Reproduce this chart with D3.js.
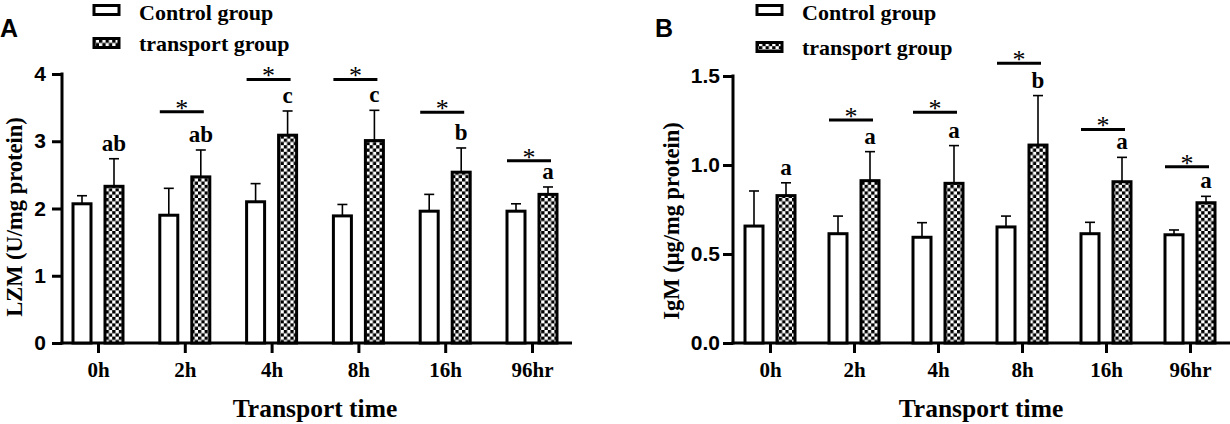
<!DOCTYPE html>
<html>
<head>
<meta charset="utf-8">
<script src="https://cdn.jsdelivr.net/npm/d3@7"></script>
<style>
  html, body { margin: 0; padding: 0; background: #fff; }
  svg { display: block; }
  .serif { font-family: "Liberation Serif", "Times New Roman", serif; font-weight: bold; }
  .sans  { font-family: "Liberation Sans", Arial, sans-serif; font-weight: bold; }
  .star  { font-family: "Liberation Serif", "Times New Roman", serif; font-weight: normal; }
</style>
</head>
<body>
<svg id="chart" width="1230" height="424"></svg>
<script>
// ---- data ----
const times = ["0h", "2h", "4h", "8h", "16h", "96hr"];

const lzmControl      = [2.07, 1.90, 2.10, 1.89, 1.96, 1.96];
const lzmControlErr   = [0.12, 0.40, 0.27, 0.17, 0.25, 0.11];
const lzmTransport    = [2.33, 2.47, 3.09, 3.01, 2.54, 2.21];
const lzmTransportErr = [0.41, 0.40, 0.36, 0.45, 0.36, 0.11];
const lzmLetters      = ["ab", "ab", "c", "c", "b", "a"];
const lzmSigLevel     = [null, 3.44, 3.92, 3.92, 3.43, 2.71];
const lzmTicks        = [0, 1, 2, 3, 4];

const igmControl      = [0.657, 0.614, 0.594, 0.652, 0.614, 0.608];
const igmControlErr   = [0.197, 0.099, 0.082, 0.061, 0.064, 0.027];
const igmTransport    = [0.828, 0.912, 0.897, 1.112, 0.906, 0.788];
const igmTransportErr = [0.072, 0.163, 0.212, 0.278, 0.137, 0.036];
const igmLetters      = ["a", "a", "a", "b", "a", "a"];
const igmSigLevel     = [null, 1.253, 1.296, 1.571, 1.20, 0.99];
const igmTicks        = [0, 0.5, 1.0, 1.5];

const svg = d3.select('#chart');

// checker pattern for the transport group
const defs = svg.append('defs');
const pat = defs.append('pattern')
  .attr('id', 'checker')
  .attr('patternUnits', 'userSpaceOnUse')
  .attr('width', 6.6).attr('height', 6.6);
pat.append('rect').attr('width', 6.6).attr('height', 6.6).attr('fill', '#fff');
pat.append('rect').attr('width', 3.3).attr('height', 3.3).attr('fill', '#000');
pat.append('rect').attr('x', 3.3).attr('y', 3.3).attr('width', 3.3).attr('height', 3.3).attr('fill', '#000');

function panel(opt) {
  const g = svg.append('g');
  const y = d3.scaleLinear().domain(opt.yDomain).range([343, opt.yTop]);
  const x = d3.scalePoint().domain(times).range(opt.xRange);

  // panel letter
  g.append('text').attr('class', 'sans')
    .attr('x', opt.letterX).attr('y', 37)
    .attr('font-size', 25).text(opt.letter);

  // legend
  const leg = [
    { label: 'Control group', fill: '#fff', y: 10, base: 20 },
    { label: 'transport group', fill: 'url(#checker)', y: opt.legRow2, base: opt.legRow2 + 8 }
  ];
  leg.forEach(l => {
    g.append('rect')
      .attr('x', opt.legX).attr('y', l.y - 4.5)
      .attr('width', 25).attr('height', 9)
      .attr('fill', l.fill).attr('stroke', '#000').attr('stroke-width', 3);
    g.append('text').attr('class', 'serif')
      .attr('x', opt.legX + 45).attr('y', l.base)
      .attr('font-size', 22).text(l.label);
  });

  // y axis
  const yAxis = g.append('g')
    .attr('transform', `translate(${opt.axisX},0)`)
    .call(d3.axisLeft(y).tickValues(opt.ticks).tickFormat(opt.fmt)
      .tickSize(10).tickSizeOuter(0).tickPadding(opt.yPad));
  yAxis.select('.domain').attr('stroke-width', 3).attr('d', `M0,${343 + 1.5}V${opt.yTop - 1.5}`);
  yAxis.selectAll('.tick line').attr('stroke-width', 3);
  yAxis.selectAll('.tick text').attr('class', 'sans').attr('font-size', 21).attr('fill', '#000');

  // x axis
  const xAxis = g.append('g')
    .attr('transform', 'translate(0,343)')
    .call(d3.axisBottom(x).tickSize(10).tickPadding(9));
  xAxis.select('.domain').attr('stroke-width', 3).attr('d', `M${opt.axisX - 1.5},0H${opt.axisEnd}`);
  xAxis.selectAll('.tick line').attr('stroke-width', 3);
  xAxis.selectAll('.tick text').attr('class', 'serif').attr('font-size', 21).attr('fill', '#000');

  const off = 16, bw = 18;
  const rows = times.map((t, i) => ({
    t, i,
    c: opt.control[i], ce: opt.controlErr[i],
    tr: opt.transport[i], te: opt.transportErr[i],
    letter: opt.letters[i], sig: opt.sig[i]
  }));

  // error bars (drawn first, bars on top)
  const err = g.append('g').attr('stroke', '#000').attr('stroke-width', 1.6);
  rows.forEach(r => {
    [[x(r.t) - off, r.c, r.ce], [x(r.t) + off, r.tr, r.te]].forEach(([cx, v, e]) => {
      err.append('line').attr('x1', cx).attr('x2', cx).attr('y1', y(v)).attr('y2', y(v + e));
      err.append('line').attr('x1', cx - 5).attr('x2', cx + 5).attr('y1', y(v + e)).attr('y2', y(v + e));
    });
  });

  // bars
  g.append('g').selectAll('rect.ctrl').data(rows).join('rect')
    .attr('x', d => x(d.t) - off - bw / 2).attr('width', bw)
    .attr('y', d => y(d.c)).attr('height', d => y(0) - y(d.c))
    .attr('fill', '#fff').attr('stroke', '#000').attr('stroke-width', 3);
  g.append('g').selectAll('rect.trans').data(rows).join('rect')
    .attr('x', d => x(d.t) + off - bw / 2).attr('width', bw)
    .attr('y', d => y(d.tr)).attr('height', d => y(0) - y(d.tr))
    .attr('fill', 'url(#checker)').attr('stroke', '#000').attr('stroke-width', 3);

  // letters over the transport bars
  g.append('g').selectAll('text').data(rows).join('text')
    .attr('class', 'serif').attr('font-size', 23)
    .attr('text-anchor', 'middle')
    .attr('x', d => x(d.t) + off)
    .attr('y', d => y(d.tr + d.te) - 8)
    .text(d => d.letter);

  // significance lines with asterisk
  const sig = rows.filter(d => d.sig != null);
  g.append('g').selectAll('line').data(sig).join('line')
    .attr('x1', d => x(d.t) - 25).attr('x2', d => x(d.t) + 19)
    .attr('y1', d => y(d.sig)).attr('y2', d => y(d.sig))
    .attr('stroke', '#000').attr('stroke-width', 3);
  g.append('g').selectAll('text').data(sig).join('text')
    .attr('class', 'star').attr('font-size', 26)
    .attr('text-anchor', 'middle')
    .attr('x', d => x(d.t) - 3)
    .attr('y', d => y(d.sig) + 5)
    .text('*');

  // axis titles
  g.append('text').attr('class', 'serif')
    .attr('font-size', opt.yTitleSize)
    .attr('text-anchor', 'middle')
    .attr('transform', `translate(${opt.yTitleX},${opt.yTitleY}) rotate(-90)`)
    .text(opt.yTitle);
  g.append('text').attr('class', 'serif')
    .attr('font-size', 25.5)
    .attr('text-anchor', 'middle')
    .attr('x', opt.xTitleX).attr('y', 417)
    .text('Transport time');
}

panel({
  letter: 'A', letterX: 0,
  legX: 94, legRow2: 43,
  yDomain: [0, 4], yTop: 74, ticks: lzmTicks, fmt: d3.format('d'), yPad: 6,
  axisX: 62, axisEnd: 572, xRange: [98, 532],
  control: lzmControl, controlErr: lzmControlErr,
  transport: lzmTransport, transportErr: lzmTransportErr,
  letters: lzmLetters, sig: lzmSigLevel,
  yTitle: 'LZM (U/mg protein)', yTitleX: 22, yTitleY: 217, yTitleSize: 22.5,
  xTitleX: 315
});

panel({
  letter: 'B', letterX: 655,
  legX: 757, legRow2: 47,
  yDomain: [0, 1.5], yTop: 76, ticks: igmTicks, fmt: d3.format('.1f'), yPad: 3,
  axisX: 733, axisEnd: 1230, xRange: [770, 1190],
  control: igmControl, controlErr: igmControlErr,
  transport: igmTransport, transportErr: igmTransportErr,
  letters: igmLetters, sig: igmSigLevel,
  yTitle: 'IgM (μg/mg protein)', yTitleX: 679, yTitleY: 221, yTitleSize: 22.5,
  xTitleX: 981
});
</script>
</body>
</html>
